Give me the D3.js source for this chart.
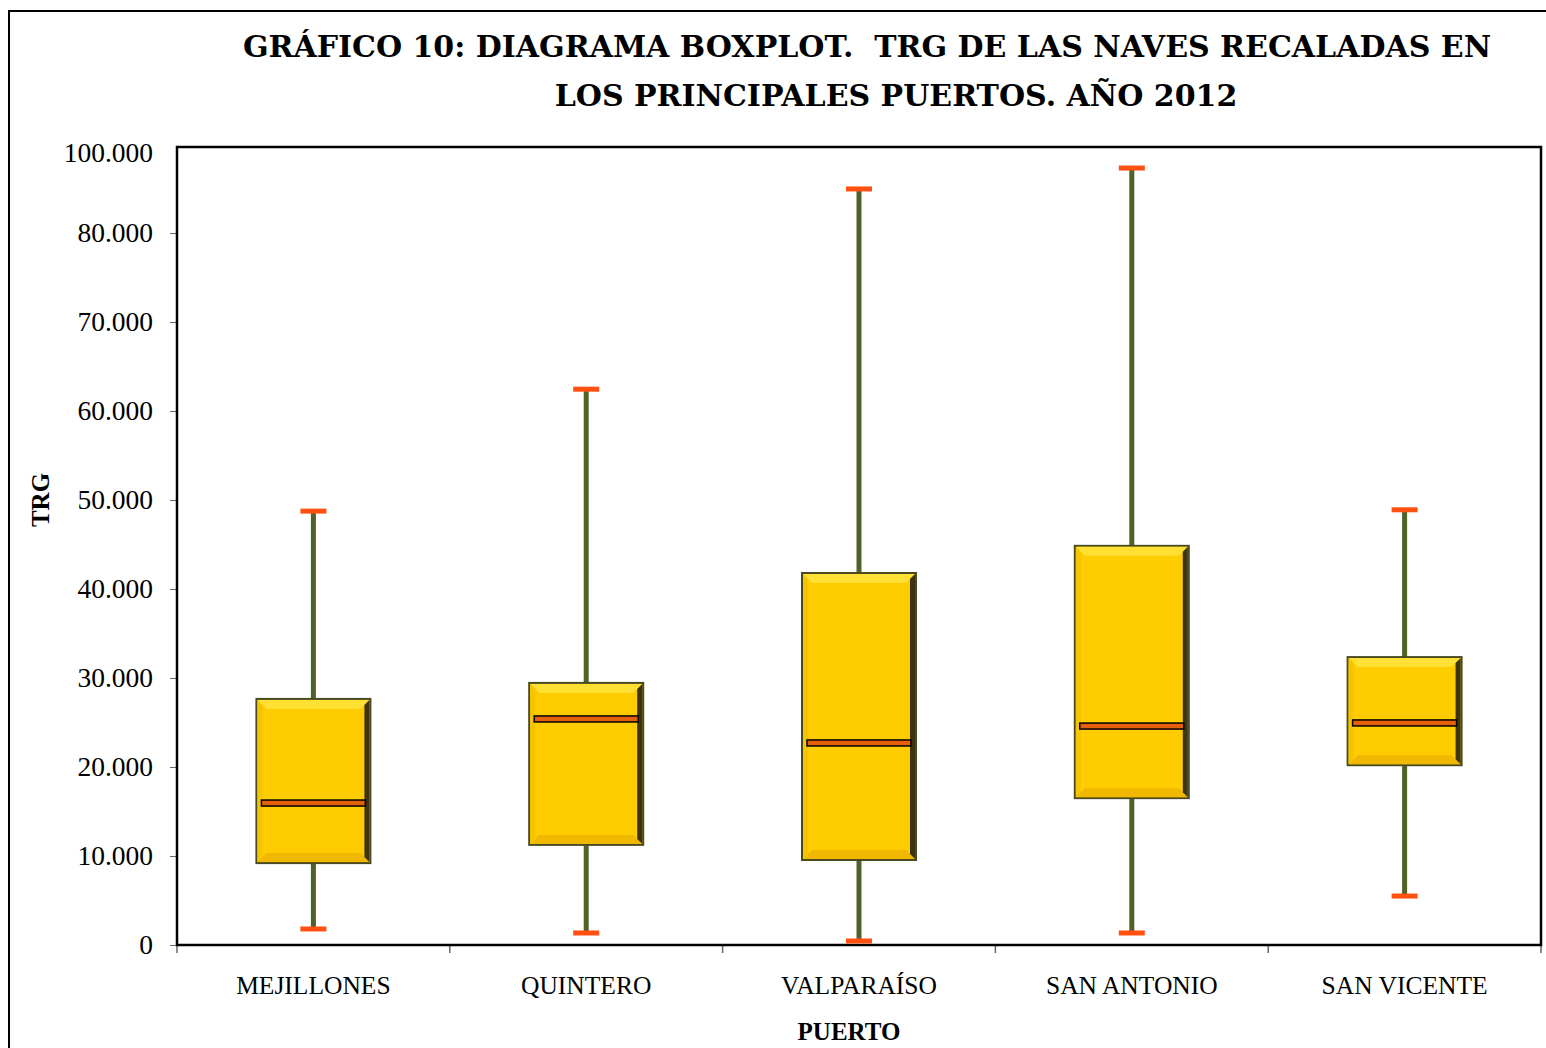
<!DOCTYPE html>
<html>
<head>
<meta charset="utf-8">
<style>
body { margin:0; background:#fff; }
svg text { font-family:"Liberation Serif", "DejaVu Serif", serif; fill:#000; }
svg text.title { font-family:"DejaVu Serif", serif; white-space:pre; }
</style>
</head>
<body>
<script src="https://cdn.jsdelivr.net/npm/d3@7"></script>
<script>
// puertos y estadisticos del boxplot (TRG)
var ports = ["MEJILLONES", "QUINTERO", "VALPARAÍSO", "SAN ANTONIO", "SAN VICENTE"];
var minVals = [1800, 1350, 450, 1350, 5500];
var q1Vals = [9200, 11250, 9550, 16500, 20200];
var medVals = [15950, 25400, 22700, 24600, 24950];
var q3Vals = [27650, 29450, 41800, 44850, 32350];
var maxVals = [48750, 62450, 84950, 87300, 48900];

var tickVals = [0, 10000, 20000, 30000, 40000, 50000, 60000, 70000, 80000, 89000];
var tickLabels = ["0", "10.000", "20.000", "30.000", "40.000", "50.000", "60.000", "70.000", "80.000", "100.000"];

var W = 1546, H = 1048;
var margin = {left:177, top:147, right:5, bottom:103};

var svg = d3.select("body").append("svg")
    .attr("width", W).attr("height", H);

// outer frame of the chart area
svg.append("rect")
    .attr("x", 9).attr("y", 11)
    .attr("width", W + 10).attr("height", H + 10)
    .attr("fill", "none").attr("stroke", "#000").attr("stroke-width", 2);

var x = d3.scaleBand().domain(ports)
    .range([margin.left, W - margin.right]).paddingInner(0).paddingOuter(0);
var y = d3.scaleLinear().domain([0, 89663])
    .range([H - margin.bottom, margin.top]);

// title
var title = svg.append("g").attr("font-weight", "bold").attr("font-size", 30);
title.append("text").attr("class", "title").attr("x", 867).attr("y", 57).attr("text-anchor", "middle")
    .text("GRÁFICO 10: DIAGRAMA BOXPLOT.  TRG DE LAS NAVES RECALADAS EN");
title.append("text").attr("class", "title").attr("x", 896).attr("y", 106).attr("text-anchor", "middle")
    .text("LOS PRINCIPALES PUERTOS. AÑO 2012");

// y axis
var yAxis = d3.axisLeft(y).tickValues(tickVals)
    .tickFormat(function(d, i) { return tickLabels[i]; })
    .tickSize(7).tickPadding(17);
var ga = svg.append("g").attr("transform", "translate(" + margin.left + ",0)").call(yAxis);
ga.select(".domain").remove();
ga.selectAll(".tick line").attr("stroke", "#666").filter(function(d) { return d == 89000; }).remove();
ga.selectAll(".tick text").attr("font-size", 27.5).style("font-family", "'Liberation Serif', serif");

// x axis
var xTicks = d3.range(ports.length + 1).map(function(i) {
  return i < ports.length ? x(ports[i]) : x(ports[ports.length - 1]) + x.bandwidth();
});
svg.append("g").selectAll("line").data(xTicks).enter().append("line")
    .attr("x1", function(d) { return d; }).attr("x2", function(d) { return d; })
    .attr("y1", y(0)).attr("y2", y(0) + 8)
    .attr("stroke", "#666").attr("stroke-width", 1.5);
svg.append("g").selectAll("text").data(ports).enter().append("text")
    .attr("x", function(d) { return x(d) + x.bandwidth() / 2; })
    .attr("y", y(0) + 49)
    .attr("text-anchor", "middle").attr("font-size", 25.5)
    .text(function(d) { return d; });

// plot border
svg.append("rect")
    .attr("x", margin.left).attr("y", margin.top)
    .attr("width", W - margin.right - margin.left)
    .attr("height", H - margin.bottom - margin.top)
    .attr("fill", "none").attr("stroke", "#000").attr("stroke-width", 2.5);

// axis titles
svg.append("text").attr("x", 849).attr("y", 1040).attr("text-anchor", "middle")
    .attr("font-weight", "bold").attr("font-size", 25).text("PUERTO");
svg.append("text").attr("transform", "translate(49,500) rotate(-90)")
    .attr("text-anchor", "middle").attr("font-weight", "bold").attr("font-size", 25).text("TRG");

// boxes
var data = ports.map(function(p, i) {
  return {port:p, min:minVals[i], q1:q1Vals[i], med:medVals[i], q3:q3Vals[i], max:maxVals[i]};
});
var boxW = 114, capW = 26, bev = 9;

var g = svg.append("g").selectAll("g").data(data).enter().append("g")
    .attr("transform", function(d) { return "translate(" + (x(d.port) + x.bandwidth() / 2) + ",0)"; });

// whiskers
g.append("line")
    .attr("x1", 0).attr("x2", 0)
    .attr("y1", function(d) { return y(d.min); })
    .attr("y2", function(d) { return y(d.max); })
    .attr("stroke", "#4f6228").attr("stroke-width", 5);
g.selectAll(".cap").data(function(d) { return [d.min, d.max]; }).enter().append("line")
    .attr("x1", -capW / 2).attr("x2", capW / 2)
    .attr("y1", function(v) { return y(v); }).attr("y2", function(v) { return y(v); })
    .attr("stroke", "#ff5010").attr("stroke-width", 5);

// box body with bevel
g.append("rect")
    .attr("x", -boxW / 2)
    .attr("y", function(d) { return y(d.q3); })
    .attr("width", boxW)
    .attr("height", function(d) { return y(d.q1) - y(d.q3); })
    .attr("fill", "#ffcc00").attr("stroke", "#4a4a22").attr("stroke-width", 2);

function bevelPoly(d, side) {
  var l = -boxW / 2 + 1, r = boxW / 2 - 1, t = y(d.q3) + 1, b = y(d.q1) - 1;
  if (side == "top") return [[l, t], [r, t], [r - bev, t + bev], [l + bev, t + bev]];
  if (side == "right") return [[r, t], [r, b], [r - 5, b - 5], [r - 5, t + 5]];
  if (side == "bottom") return [[l, b], [r, b], [r - bev, b - bev], [l + bev, b - bev]];
  return [[l, t], [l, b], [l + 5, b - 5], [l + 5, t + 5]];
}
var bevelFill = {top:"#ffe033", right:"#3c3310", bottom:"#f0b800", left:"#f7c400"};
["top", "bottom", "left", "right"].forEach(function(side) {
  g.append("polygon")
      .attr("points", function(d) { return bevelPoly(d, side).map(function(p) { return p.join(","); }).join(" "); })
      .attr("fill", bevelFill[side]);
});

// median
g.append("rect")
    .attr("x", -boxW / 2 + 5)
    .attr("y", function(d) { return y(d.med) - 3; })
    .attr("width", boxW - 10).attr("height", 6)
    .attr("fill", "#e4600a").attr("stroke", "#000").attr("stroke-width", 1.5);
</script>
</body>
</html>
